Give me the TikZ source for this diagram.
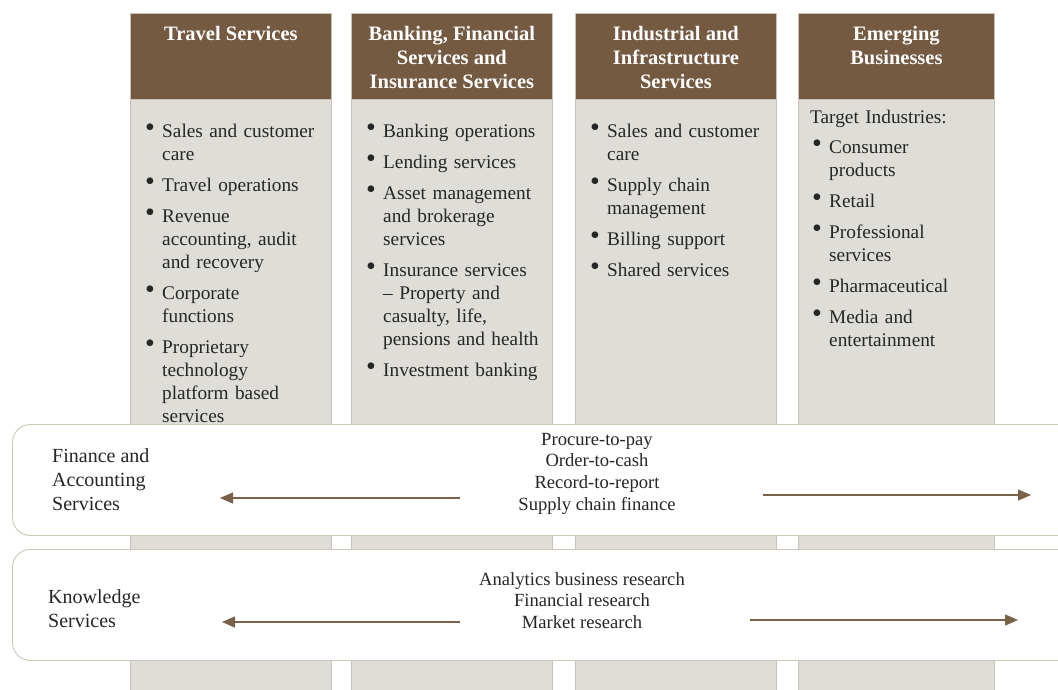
\documentclass[tikz,border=0pt]{standalone}
\usepackage{fontspec}
\usepackage{graphicx}
\setmainfont{Liberation Serif}
\usetikzlibrary{arrows.meta}
\definecolor{hdr}{HTML}{735A41}
\definecolor{colfill}{HTML}{DFDDD8}
\definecolor{colline}{HTML}{CBC2B7}
\definecolor{bandline}{HTML}{CFC6BA}
\definecolor{arrc}{HTML}{7A6149}
\definecolor{txt}{HTML}{262626}
\newcommand\bitem[1]{\par\hangindent=17pt\hangafter=1\noindent\strut\makebox[17pt][l]{\raisebox{1pt}{\scalebox{1.45}{\textbullet}}}#1\par\vspace{8pt}}
\begin{document}
\begin{tikzpicture}[x=1pt,y=-1pt,
  colbody/.style={draw=colline,fill=colfill,line width=0.8pt,inner sep=0pt,minimum width=201pt,minimum height=600pt,anchor=north west},
  hdrbox/.style={draw=colline,fill=hdr,line width=0.8pt,inner sep=0pt,minimum width=201pt,minimum height=86pt,anchor=north west},
  hdrtext/.style={text=white,font=\fontsize{20.5}{24}\selectfont\bfseries,align=center,inner sep=0pt,anchor=north},
  listtext/.style={text=txt,font=\fontsize{19.3}{23}\selectfont,text width=205pt,align=left,inner sep=0pt,anchor=north west},
  band/.style={draw=bandline,fill=white,line width=0.9pt,rounded corners=18pt,inner sep=0pt,minimum width=1080pt,minimum height=111pt,anchor=north west},
  bandlabel/.style={text=txt,font=\fontsize{20}{24}\selectfont,align=left,inner sep=0pt,anchor=north west},
  bandlist/.style={text=txt,font=\fontsize{18.6}{21.6}\selectfont,align=center,inner sep=0pt,anchor=north},
  flow/.style={draw=arrc,line width=1.5pt,-{Triangle[length=13pt,width=11pt]}}
]
\useasboundingbox (0,0) rectangle (1058,689);
\clip (0,0) rectangle (1058,689);
\fill[white] (0,0) rectangle (1058,689);

% columns
\node[colbody] (b1) at (130,99) {};
\node[colbody] (b2) at (351,99) {};
\node[colbody] (b3) at (575,99) {};
\node[colbody, minimum width=196pt] (b4) at (798,99) {};
\node[hdrbox] (h1) at (130,13) {};
\node[hdrbox] (h2) at (351,13) {};
\node[hdrbox] (h3) at (575,13) {};
\node[hdrbox, minimum width=196pt] (h4) at (798,13) {};

\node[hdrtext] (h1t) at (h1.north |- 0,23) {\strut Travel Services};
\node[hdrtext] (h2t) at (h2.north |- 0,23) {\strut Banking, Financial\\Services and\\Insurance Services};
\node[hdrtext] (h3t) at (h3.north |- 0,23) {\strut Industrial and\\Infrastructure\\Services};
\node[hdrtext] (h4t) at (h4.north |- 0,23) {\strut Emerging\\Businesses};

% lists
\node[listtext] (l1) at (145,114) {\setlength{\parskip}{0pt}%
\bitem{Sales and customer\newline care}
\bitem{Travel operations}
\bitem{Revenue\newline accounting, audit\newline and recovery}
\bitem{Corporate\newline functions}
\bitem{Proprietary\newline technology\newline platform based\newline services}};
\node[listtext] (l2) at (366,114) {\setlength{\parskip}{0pt}%
\bitem{Banking operations}
\bitem{Lending services}
\bitem{Asset management\newline and brokerage\newline services}
\bitem{Insurance services\newline – Property and\newline casualty, life,\newline pensions and health}
\bitem{Investment banking}};
\node[listtext] (l3) at (590,114) {\setlength{\parskip}{0pt}%
\bitem{Sales and customer\newline care}
\bitem{Supply chain\newline management}
\bitem{Billing support}
\bitem{Shared services}};
\node[listtext] (l4) at (810,107) {\setlength{\parskip}{0pt}%
\noindent\strut Target Industries:\par\vspace{7pt}
\leftskip=2pt
\bitem{Consumer\newline products}
\bitem{Retail}
\bitem{Professional\newline services}
\bitem{Pharmaceutical}
\bitem{Media and\newline entertainment}};

% bands
\node[band] (fa) at (12,424) {};
\node[band] (ks) at (12,549) {};

\node[bandlabel] (fat) at (52,445) {\strut Finance and\\Accounting\\Services};
\node[bandlabel] (kst) at (48,586) {\strut Knowledge\\Services};

\node[bandlist] (fal) at (597,430) {\strut Procure-to-pay\\Order-to-cash\\Record-to-report\\Supply chain finance};
\node[bandlist] (ksl) at (582,570) {\strut Analytics business research\\Financial research\\Market research};

% arrows
\coordinate (fa1) at (460,498);
\coordinate (fa2) at (220,498);
\coordinate (fa3) at (763,495);
\coordinate (fa4) at (1031,495);
\coordinate (ks1) at (460,622);
\coordinate (ks2) at (222,622);
\coordinate (ks3) at (750,620);
\coordinate (ks4) at (1018,620);
\draw[flow] (fa1) -- (fa2);
\draw[flow] (fa3) -- (fa4);
\draw[flow] (ks1) -- (ks2);
\draw[flow] (ks3) -- (ks4);
\end{tikzpicture}
\end{document}
